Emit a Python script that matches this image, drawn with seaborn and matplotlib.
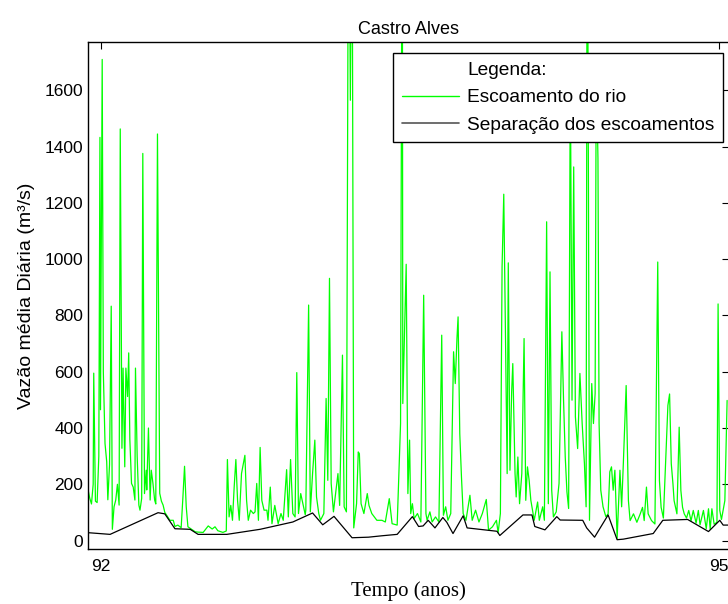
import numpy as np
import pandas as pd
import matplotlib
matplotlib.use("Agg")
import matplotlib.pyplot as plt
from matplotlib.lines import Line2D
import seaborn as sns

# Vazão média diária do rio (dia contado a partir de 1/1/1992, m³/s)
dias_rio = [
    -22, -19, -16, -13, -12, -9, -6, -3, -1, 0, 3, 5, 8, 11, 13, 16, 19, 21, 24, 27,
    30, 33, 35, 38, 40, 43, 45, 48, 50, 52, 55, 58, 61, 62, 65, 68, 70, 73, 75, 78,
    81, 82, 85, 88, 90, 93, 96, 98, 101, 105, 108, 111, 114, 118, 123, 129, 132, 137, 143, 146,
    149, 152, 155, 160, 168, 173, 182, 191, 198, 203, 208, 217, 223, 225, 228, 231, 234, 237, 240, 243,
    246, 250, 256, 259, 262, 266, 271, 274, 277, 280, 283, 286, 290, 295, 297, 301, 304, 309, 315, 320,
    324, 330, 333, 337, 341, 345, 348, 351, 355, 360, 363, 364, 369, 372, 376, 380, 383, 387, 390, 396,
    400, 403, 406, 409, 413, 421, 424, 429, 432, 436, 440, 443, 446, 449, 454, 457, 459, 462, 467, 473,
    476, 481, 490, 499, 505, 512, 517, 526, 532, 535, 536, 542, 545, 548, 550, 553, 556, 562, 568, 573,
    577, 579, 584, 588, 594, 600, 605, 608, 612, 616, 621, 626, 629, 632, 634, 637, 640, 643, 648, 655,
    659, 665, 671, 677, 684, 688, 695, 702, 705, 709, 712, 715, 718, 721, 723, 726, 729, 731, 735, 737,
    740, 743, 747, 751, 754, 757, 760, 763, 769, 775, 778, 784, 787, 791, 794, 797, 800, 803, 808, 813,
    818, 821, 824, 827, 830, 833, 836, 839, 842, 846, 850, 854, 858, 861, 863, 867, 871, 874, 877, 879,
    882, 884, 887, 891, 896, 900, 903, 906, 909, 912, 916, 921, 924, 927, 932, 936, 939, 945, 951, 957,
    961, 964, 968, 971, 977, 983, 988, 991, 994, 998, 1006, 1009, 1012, 1015, 1017, 1022, 1026, 1029, 1032, 1035,
    1039, 1043, 1047, 1051, 1056, 1060, 1063, 1069, 1074, 1078, 1081, 1084, 1088, 1093, 1095, 1098, 1101, 1107, 1111,
]
vazao_rio = [
    180, 150, 130, 200, 595, 140, 135, 300, 1433, 465, 1710, 600, 345, 280, 145, 270, 833, 40, 120, 144,
    200, 126, 1463, 328, 613, 262, 613, 512, 667, 360, 203, 190, 144, 613, 300, 126, 108, 150, 1376, 167,
    250, 180, 400, 144, 250, 203, 144, 130, 1445, 168, 140, 126, 100, 88, 72, 72, 50, 55, 46, 150,
    264, 120, 49, 42, 31, 30, 29, 52, 41, 49, 35, 29, 34, 288, 84, 125, 72, 190, 288, 143,
    72, 238, 303, 143, 72, 108, 96, 102, 203, 72, 331, 143, 108, 108, 72, 190, 60, 125, 60, 96,
    72, 252, 84, 288, 96, 84, 597, 96, 167, 120, 92, 108, 837, 102, 238, 357, 155, 96, 72, 96,
    505, 214, 932, 203, 102, 238, 125, 659, 120, 102, 2600, 1565, 2400, 45, 131, 315, 309, 131, 96, 167,
    125, 96, 72, 72, 66, 149, 60, 55, 416, 2600, 487, 982, 167, 357, 96, 131, 78, 96, 66, 872,
    96, 72, 102, 66, 84, 66, 730, 90, 120, 72, 96, 671, 558, 718, 795, 380, 226, 96, 72, 161,
    72, 108, 66, 96, 146, 37, 49, 72, 28, 96, 973, 1231, 736, 238, 987, 250, 529, 629, 238, 155,
    297, 131, 238, 718, 143, 262, 214, 143, 72, 137, 72, 120, 72, 1133, 131, 955, 179, 84, 102, 203,
    742, 499, 297, 173, 114, 1700, 499, 1328, 440, 327, 594, 416, 274, 120, 2600, 72, 558, 416, 523, 1700,
    1358, 416, 179, 120, 85, 95, 244, 262, 179, 250, 8, 250, 120, 274, 551, 142, 71, 95, 65, 95,
    118, 71, 190, 95, 71, 59, 990, 213, 118, 80, 480, 521, 273, 201, 142, 95, 403, 178, 118, 95,
    80, 107, 70, 107, 62, 107, 56, 107, 42, 113, 40, 113, 58, 65, 841, 107, 75, 142, 498,
]

# Escoamento de base obtido pela separação dos escoamentos
dias_base = [
    -22, 17, 102, 114, 132, 159, 173, 224, 283, 341, 376, 394, 414, 446, 475, 499, 526, 553,
    564, 572, 581, 593, 607, 614, 625, 643, 650, 703, 708, 749, 765, 770, 788, 809, 815, 855,
    862, 876, 900, 916, 927, 980, 997, 1041, 1078, 1098, 1104, 1113,
]
vazao_base = [
    28, 22, 99, 95, 42, 40, 22, 22, 40, 66, 98, 56, 86, 10, 12, 17, 22, 85,
    50, 52, 72, 45, 82, 65, 25, 88, 45, 33, 18, 91, 91, 50, 38, 85, 73, 72,
    45, 12, 91, 3, 5, 25, 72, 75, 32, 72, 55, 55,
]

anos_ticks = [92, 95]
vazao_ticks = [0, 200, 400, 600, 800, 1000, 1200, 1400, 1600]

titulo = "Castro Alves"
rotulo_x = "Tempo (anos)"
rotulo_y = "Vazão média Diária (m³/s)"
legenda = ["Legenda:", "Escoamento do rio", "Separação dos escoamentos"]

ano_inicial = 92
df_rio = pd.DataFrame({"tempo": ano_inicial + np.array(dias_rio) / 365.25,
                       "vazao": vazao_rio})
df_base = pd.DataFrame({"tempo": ano_inicial + np.array(dias_base) / 365.25,
                        "vazao": vazao_base})

sns.set_theme(style="white")
plt.rcParams["font.family"] = ["Liberation Sans", "DejaVu Sans"]
plt.rcParams["axes.edgecolor"] = "black"
plt.rcParams["axes.linewidth"] = 1.0

W, H = 728, 604
fig = plt.figure(figsize=(W / 100, H / 100), dpi=100)
fig.patch.set_facecolor("white")
ax = fig.add_axes([88 / W, 1 - 549 / H, 640.5 / W, 507 / H])

verde = "#00ff00"
sns.lineplot(data=df_rio, x="tempo", y="vazao", color=verde, lw=0.9,
             ax=ax, legend=False, sort=False)
sns.lineplot(data=df_base, x="tempo", y="vazao", color="black", lw=0.9,
             ax=ax, legend=False, sort=False)

ax.set_xlim(91.9393, 95.0485)
ax.set_ylim(-30, 1772)
ax.set_xticks(anos_ticks)
ax.set_xticklabels([str(a) for a in anos_ticks])
ax.set_yticks(vazao_ticks)
ax.set_yticklabels([str(v) for v in vazao_ticks])

ax.tick_params(axis="both", direction="in", length=5, width=0.8, color="black",
               top=True, right=True, labelsize=12.5, labelcolor="black")
ax.tick_params(axis="y", pad=3.5)
ax.tick_params(axis="x", pad=7.5)

ax.set_title(titulo, fontsize=13, color="black", pad=6)
ax.set_xlabel(rotulo_x, fontsize=15, family=["Liberation Serif", "DejaVu Serif"],
              color="black", labelpad=5)
ax.set_ylabel(rotulo_y, fontsize=14, color="black", labelpad=7)

for s in ax.spines.values():
    s.set_color("black")
    s.set_linewidth(1.0)

handles = [Line2D([], [], color="none"),
           Line2D([], [], color=verde, lw=1.0),
           Line2D([], [], color="#555555", lw=1.2)]
leg = ax.legend(handles, legenda, loc="upper right",
                bbox_to_anchor=(723 / W, 1 - 53 / H), bbox_transform=fig.transFigure,
                frameon=True, fancybox=False, edgecolor="black", framealpha=1,
                fontsize=13.8, handlelength=3.0, handletextpad=0.4,
                borderpad=0.45, labelspacing=0.52, borderaxespad=0)
leg.get_frame().set_linewidth(1.0)
for t in leg.get_texts():
    t.set_color("black")

fig.savefig("out.png", dpi=100, facecolor="white")
